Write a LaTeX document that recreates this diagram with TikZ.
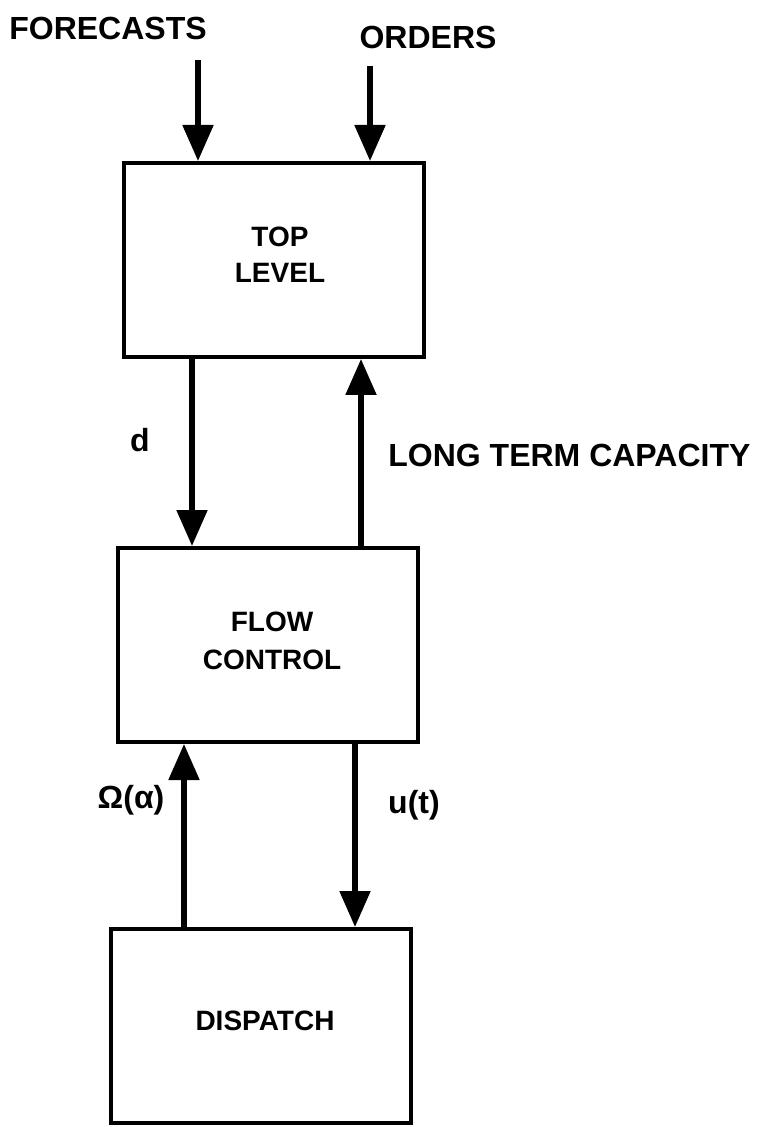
\documentclass[tikz,border=0pt]{standalone}
\usepackage{fontspec}
\setmainfont{Liberation Sans}
\usetikzlibrary{arrows.meta}
\begin{document}
\begin{tikzpicture}[x=0.5pt,y=-0.5pt,
  box/.style={draw,line width=2pt,minimum width=150pt,minimum height=97pt,inner sep=0pt,align=center,font=\fontsize{14pt}{18.5pt}\selectfont\bfseries},
  arr/.style={line width=2.6pt,-{Triangle[width=15pt,length=18pt]}},
  lab/.style={font=\fontsize{16pt}{19pt}\selectfont\bfseries,inner sep=0pt}]
\useasboundingbox (0,0) rectangle (763,1127);
\node[box] (top) at (274,260) {};
\node[font=\fontsize{14pt}{18pt}\selectfont\bfseries,align=center] (toptxt) at (280,255) {TOP\\LEVEL};
\node[box] (flow) at (268,645) {};
\node[font=\fontsize{14pt}{19pt}\selectfont\bfseries,align=center] (flowtxt) at (272,641) {FLOW\\CONTROL};
\node[box] (disp) at (261,1026) {};
\node[font=\fontsize{14pt}{18pt}\selectfont\bfseries] (disptxt) at (265,1021) {DISPATCH};
\node[lab] (fc) at (108,28) {FORECASTS};
\node[lab] (or) at (428,37) {ORDERS};
\coordinate (f0) at (198,60);
\coordinate (o0) at (370,66);
\coordinate (xd) at (192,0);
\coordinate (xl) at (361,0);
\coordinate (xo) at (184,0);
\coordinate (xu) at (355,0);
\draw[arr] (f0) -- (top.north -| f0);
\draw[arr] (o0) -- (top.north -| o0);
\draw[arr] (top.south -| xd) -- (flow.north -| xd);
\draw[arr] (flow.north -| xl) -- (top.south -| xl);
\draw[arr] (disp.north -| xo) -- (flow.south -| xo);
\draw[arr] (flow.south -| xu) -- (disp.north -| xu);
\node[lab] (ld) at (140,440) {d};
\node[lab,anchor=west] (lc) at (388,455) {LONG TERM CAPACITY};
\node[lab] (lo) at (131,800) {Ω(α)};
\node[lab] (lu) at (414,805) {u(t)};
\end{tikzpicture}
\end{document}
